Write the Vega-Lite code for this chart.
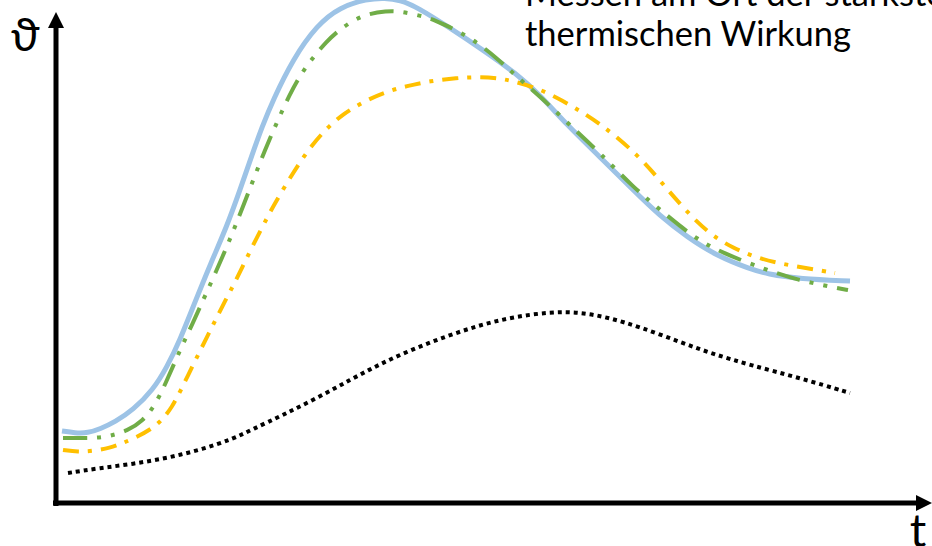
{
  "$schema": "https://vega.github.io/schema/vega-lite/v6.json",
  "width": 932,
  "height": 546,
  "padding": 0,
  "autosize": {"type": "none"},
  "background": "white",
  "config": {"view": {"stroke": null}},
  "datasets": {
    "curves": [
      {"s": "blue", "t": 6, "v": 72}, {"s": "blue", "t": 19, "v": 70}, {"s": "blue", "t": 32, "v": 70},
      {"s": "blue", "t": 44, "v": 74}, {"s": "blue", "t": 59, "v": 81}, {"s": "blue", "t": 77, "v": 93},
      {"s": "blue", "t": 97, "v": 113}, {"s": "blue", "t": 111, "v": 136}, {"s": "blue", "t": 124, "v": 163},
      {"s": "blue", "t": 139, "v": 201}, {"s": "blue", "t": 154, "v": 238}, {"s": "blue", "t": 171, "v": 277},
      {"s": "blue", "t": 184, "v": 313}, {"s": "blue", "t": 196, "v": 348}, {"s": "blue", "t": 206, "v": 376},
      {"s": "blue", "t": 217, "v": 403}, {"s": "blue", "t": 237, "v": 444}, {"s": "blue", "t": 261, "v": 478},
      {"s": "blue", "t": 284, "v": 496}, {"s": "blue", "t": 311, "v": 504}, {"s": "blue", "t": 329, "v": 505},
      {"s": "blue", "t": 344, "v": 503}, {"s": "blue", "t": 361, "v": 496}, {"s": "blue", "t": 394, "v": 475},
      {"s": "blue", "t": 427, "v": 453}, {"s": "blue", "t": 461, "v": 429}, {"s": "blue", "t": 484, "v": 408},
      {"s": "blue", "t": 511, "v": 378}, {"s": "blue", "t": 544, "v": 346}, {"s": "blue", "t": 577, "v": 313},
      {"s": "blue", "t": 604, "v": 287}, {"s": "blue", "t": 631, "v": 266}, {"s": "blue", "t": 661, "v": 247},
      {"s": "blue", "t": 694, "v": 234}, {"s": "blue", "t": 711, "v": 229}, {"s": "blue", "t": 744, "v": 224},
      {"s": "blue", "t": 794, "v": 222},

      {"s": "green", "t": 7, "v": 65}, {"s": "green", "t": 24, "v": 65}, {"s": "green", "t": 41, "v": 65},
      {"s": "green", "t": 54, "v": 67}, {"s": "green", "t": 71, "v": 72}, {"s": "green", "t": 87, "v": 82},
      {"s": "green", "t": 99, "v": 98}, {"s": "green", "t": 109, "v": 118}, {"s": "green", "t": 124, "v": 153},
      {"s": "green", "t": 136, "v": 178}, {"s": "green", "t": 149, "v": 207}, {"s": "green", "t": 167, "v": 247},
      {"s": "green", "t": 181, "v": 281}, {"s": "green", "t": 196, "v": 320}, {"s": "green", "t": 209, "v": 353},
      {"s": "green", "t": 221, "v": 381}, {"s": "green", "t": 234, "v": 409}, {"s": "green", "t": 242, "v": 424},
      {"s": "green", "t": 254, "v": 442}, {"s": "green", "t": 271, "v": 462}, {"s": "green", "t": 282, "v": 472},
      {"s": "green", "t": 296, "v": 482}, {"s": "green", "t": 311, "v": 489}, {"s": "green", "t": 331, "v": 492},
      {"s": "green", "t": 341, "v": 492}, {"s": "green", "t": 357, "v": 489}, {"s": "green", "t": 374, "v": 485},
      {"s": "green", "t": 387, "v": 479}, {"s": "green", "t": 414, "v": 466}, {"s": "green", "t": 441, "v": 445},
      {"s": "green", "t": 461, "v": 426}, {"s": "green", "t": 487, "v": 404}, {"s": "green", "t": 521, "v": 371},
      {"s": "green", "t": 544, "v": 350}, {"s": "green", "t": 577, "v": 316}, {"s": "green", "t": 602, "v": 295},
      {"s": "green", "t": 637, "v": 266}, {"s": "green", "t": 666, "v": 250}, {"s": "green", "t": 711, "v": 233},
      {"s": "green", "t": 741, "v": 223}, {"s": "green", "t": 781, "v": 215}, {"s": "green", "t": 792, "v": 213},

      {"s": "yellow", "t": 7, "v": 53}, {"s": "yellow", "t": 22, "v": 51}, {"s": "yellow", "t": 37, "v": 52},
      {"s": "yellow", "t": 54, "v": 55}, {"s": "yellow", "t": 67, "v": 60}, {"s": "yellow", "t": 81, "v": 66},
      {"s": "yellow", "t": 97, "v": 75}, {"s": "yellow", "t": 107, "v": 84}, {"s": "yellow", "t": 116, "v": 96},
      {"s": "yellow", "t": 124, "v": 111}, {"s": "yellow", "t": 136, "v": 136}, {"s": "yellow", "t": 146, "v": 156},
      {"s": "yellow", "t": 156, "v": 176}, {"s": "yellow", "t": 166, "v": 196}, {"s": "yellow", "t": 177, "v": 217},
      {"s": "yellow", "t": 186, "v": 235}, {"s": "yellow", "t": 197, "v": 258}, {"s": "yellow", "t": 211, "v": 285},
      {"s": "yellow", "t": 219, "v": 300}, {"s": "yellow", "t": 231, "v": 320}, {"s": "yellow", "t": 242, "v": 338},
      {"s": "yellow", "t": 256, "v": 358}, {"s": "yellow", "t": 271, "v": 375}, {"s": "yellow", "t": 287, "v": 389},
      {"s": "yellow", "t": 307, "v": 401}, {"s": "yellow", "t": 329, "v": 411}, {"s": "yellow", "t": 351, "v": 417},
      {"s": "yellow", "t": 374, "v": 422}, {"s": "yellow", "t": 401, "v": 425}, {"s": "yellow", "t": 421, "v": 426},
      {"s": "yellow", "t": 441, "v": 425}, {"s": "yellow", "t": 457, "v": 422}, {"s": "yellow", "t": 484, "v": 414},
      {"s": "yellow", "t": 507, "v": 402}, {"s": "yellow", "t": 526, "v": 391}, {"s": "yellow", "t": 544, "v": 379},
      {"s": "yellow", "t": 562, "v": 365}, {"s": "yellow", "t": 581, "v": 348}, {"s": "yellow", "t": 596, "v": 332},
      {"s": "yellow", "t": 611, "v": 314}, {"s": "yellow", "t": 626, "v": 297}, {"s": "yellow", "t": 641, "v": 281},
      {"s": "yellow", "t": 657, "v": 267}, {"s": "yellow", "t": 677, "v": 255}, {"s": "yellow", "t": 699, "v": 246},
      {"s": "yellow", "t": 721, "v": 240}, {"s": "yellow", "t": 744, "v": 236}, {"s": "yellow", "t": 767, "v": 232},
      {"s": "yellow", "t": 779, "v": 230},

      {"s": "black", "t": 12, "v": 30}, {"s": "black", "t": 44, "v": 35}, {"s": "black", "t": 77, "v": 39},
      {"s": "black", "t": 111, "v": 45}, {"s": "black", "t": 144, "v": 53}, {"s": "black", "t": 177, "v": 64},
      {"s": "black", "t": 197, "v": 74}, {"s": "black", "t": 227, "v": 88}, {"s": "black", "t": 261, "v": 105},
      {"s": "black", "t": 294, "v": 123}, {"s": "black", "t": 324, "v": 139}, {"s": "black", "t": 357, "v": 154},
      {"s": "black", "t": 391, "v": 167}, {"s": "black", "t": 424, "v": 178}, {"s": "black", "t": 457, "v": 186},
      {"s": "black", "t": 494, "v": 191}, {"s": "black", "t": 524, "v": 191}, {"s": "black", "t": 554, "v": 185},
      {"s": "black", "t": 584, "v": 176}, {"s": "black", "t": 624, "v": 161}, {"s": "black", "t": 657, "v": 149},
      {"s": "black", "t": 694, "v": 138}, {"s": "black", "t": 744, "v": 125}, {"s": "black", "t": 794, "v": 110}
    ],
    "axes": [
      {"t": 0, "v": -3, "t2": 0, "v2": 478},
      {"t": -3, "v": 0, "t2": 864, "v2": 0}
    ],
    "heads": [
      {"t": 0, "v": 483, "dir": "up"},
      {"t": 868, "v": 0, "dir": "right"}
    ],
    "symbols": [
      {"t": -31, "v": 452, "label": "ϑ"},
      {"t": 862, "v": -44, "label": "t"}
    ],
    "note": [
      {"t": 469, "v": 497, "label": "Messen am Ort der stärksten"},
      {"t": 469, "v": 457, "label": "thermischen Wirkung"}
    ]
  },
  "encoding": {
    "x": {"field": "t", "type": "quantitative", "scale": {"domain": [-56, 876]}, "axis": null},
    "y": {"field": "v", "type": "quantitative", "scale": {"domain": [-43, 503]}, "axis": null}
  },
  "layer": [
    {
      "data": {"name": "axes"},
      "mark": {"type": "rule", "color": "black", "strokeWidth": 5},
      "encoding": {"x2": {"field": "t2"}, "y2": {"field": "v2"}}
    },
    {
      "data": {"name": "heads"},
      "mark": {"type": "point", "filled": true, "color": "black", "opacity": 1, "size": 256},
      "encoding": {
        "shape": {
          "field": "dir",
          "scale": {"domain": ["up", "right"], "range": ["M-1,1L1,1L0,-1Z", "M-1,-1L1,0L-1,1Z"]},
          "legend": null
        }
      }
    },
    {
      "data": {"name": "curves"},
      "transform": [{"filter": "datum.s === 'black'"}],
      "mark": {"type": "line", "color": "black", "strokeWidth": 4, "strokeDash": [4, 4], "strokeCap": "butt", "interpolate": "basis"},
      "encoding": {"order": {"field": "t"}}
    },
    {
      "data": {"name": "curves"},
      "transform": [{"filter": "datum.s === 'blue'"}],
      "mark": {"type": "line", "color": "#9DC3E6", "strokeWidth": 5, "interpolate": "basis"},
      "encoding": {"order": {"field": "t"}}
    },
    {
      "data": {"name": "curves"},
      "transform": [{"filter": "datum.s === 'yellow'"}],
      "mark": {"type": "line", "color": "#FFC000", "strokeWidth": 4, "strokeDash": [16, 9, 4, 9], "strokeCap": "butt", "interpolate": "basis"},
      "encoding": {"order": {"field": "t"}}
    },
    {
      "data": {"name": "curves"},
      "transform": [{"filter": "datum.s === 'green'"}],
      "mark": {"type": "line", "color": "#70AD47", "strokeWidth": 4, "strokeDash": [24, 10, 4, 10, 4, 10], "strokeCap": "butt", "interpolate": "basis"},
      "encoding": {"order": {"field": "t"}}
    },
    {
      "data": {"name": "symbols"},
      "mark": {"type": "text", "font": "Lato", "fontSize": 46, "align": "center", "baseline": "alphabetic", "color": "black"},
      "encoding": {"text": {"field": "label"}}
    },
    {
      "data": {"name": "note"},
      "mark": {"type": "text", "font": "Lato", "fontSize": 34.5, "align": "left", "baseline": "alphabetic", "color": "black"},
      "encoding": {"text": {"field": "label"}}
    }
  ]
}
